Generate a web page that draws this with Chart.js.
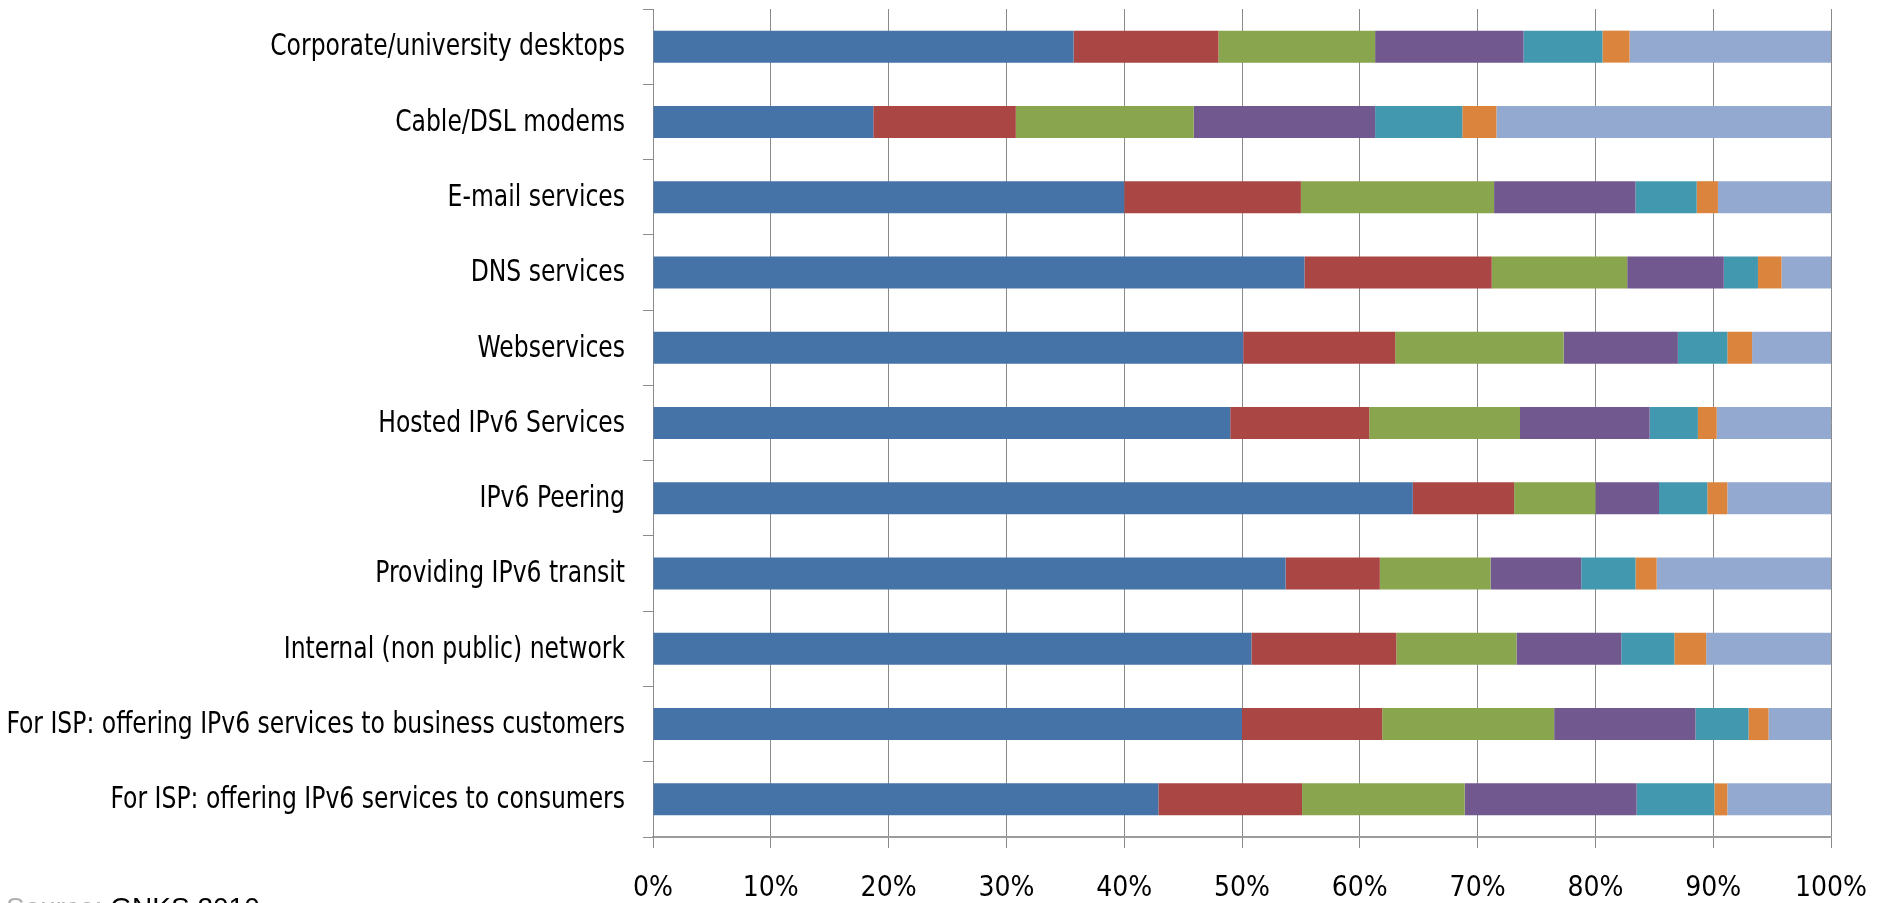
<!DOCTYPE html>
<html>
<head>
<meta charset="utf-8">
<script src="https://cdn.jsdelivr.net/npm/chart.js@4"></script>
<style>
  html, body { margin: 0; padding: 0; background: #fff; overflow: hidden; }
  #wrap { position: relative; width: 1877px; height: 903px; overflow: hidden; }
  #note {
    position: absolute; left: 6px; top: 892px;
    font-family: 'Liberation Sans', Arial, sans-serif; font-size: 28px;
    color: #000; white-space: nowrap;
  }
  #note span { color: #b0b0b0; }
</style>
</head>
<body>
<div id="wrap">
  <canvas id="chart"></canvas>
  <div id="note"><span>Source:</span> GNKS 2010</div>
</div>
<script>
// Categories (top to bottom)
const categories = [
  'Corporate/university desktops',
  'Cable/DSL modems',
  'E-mail services',
  'DNS services',
  'Webservices',
  'Hosted IPv6 Services',
  'IPv6 Peering',
  'Providing IPv6 transit',
  'Internal (non public) network',
  'For ISP: offering IPv6 services to business customers',
  'For ISP: offering IPv6 services to consumers'
];

// Share of answers per category, in percent (each row sums to 100)
const series1 = [35.7, 18.7, 40.0, 55.3, 50.1, 49.0, 64.5, 53.7, 50.8, 50.0, 42.9];
const series2 = [12.3, 12.1, 15.0, 15.9, 12.9, 11.8, 8.6, 8.0, 12.3, 11.9, 12.2];
const series3 = [13.3, 15.1, 16.4, 11.5, 14.3, 12.8, 6.9, 9.4, 10.2, 14.6, 13.8];
const series4 = [12.6, 15.4, 12.0, 8.2, 9.7, 11.0, 5.4, 7.7, 8.9, 12.0, 14.6];
const series5 = [6.7, 7.4, 5.2, 2.9, 4.2, 4.1, 4.1, 4.6, 4.5, 4.5, 6.6];
const series6 = [2.3, 2.9, 1.8, 2.0, 2.1, 1.6, 1.7, 1.8, 2.7, 1.7, 1.1];
const series7 = [17.1, 28.4, 9.6, 4.2, 6.7, 9.7, 8.8, 14.8, 10.6, 5.3, 8.8];

const seriesNames = ['Series 1', 'Series 2', 'Series 3', 'Series 4', 'Series 5', 'Series 6', 'Series 7'];
const seriesColors = ['#4673A7', '#AA4744', '#89A54E', '#71588F', '#4298AF', '#DB843D', '#94A9D0'];

// X axis tick values
const xTicks = [0, 10, 20, 30, 40, 50, 60, 70, 80, 90, 100];

const LABEL_FONT = "'Liberation Sans Narrow', 'DejaVu Sans Condensed', sans-serif";
const GRID = '#8a8a8a';

const allSeries = [series1, series2, series3, series4, series5, series6, series7];

const datasets = allSeries.map((vals, i) => ({
  label: seriesNames[i],
  data: vals,
  backgroundColor: seriesColors[i],
  borderWidth: 0,
  barPercentage: 0.85,
  categoryPercentage: 0.5
}));

// Category labels drawn slightly condensed so the long ISP lines fit left of the axis
const condensedLabels = {
  id: 'condensedLabels',
  afterDraw(chart) {
    const ctx = chart.ctx;
    const y = chart.scales.y;
    const right = y.right - 10 - 18;
    ctx.save();
    ctx.fillStyle = '#000';
    ctx.font = '30px ' + LABEL_FONT;
    ctx.textAlign = 'right';
    ctx.textBaseline = 'middle';
    categories.forEach((label, i) => {
      ctx.save();
      ctx.translate(right, y.getPixelForValue(i) + 1);
      ctx.scale(0.87, 1);
      ctx.fillText(label, 0, 0);
      ctx.restore();
    });
    ctx.restore();
  }
};

new Chart(document.getElementById('chart'), {
  type: 'bar',
  data: { labels: categories, datasets: datasets },
  plugins: [condensedLabels],
  options: {
    indexAxis: 'y',
    responsive: true,
    maintainAspectRatio: false,
    animation: false,
    layout: { padding: { left: 0, right: 46, top: 9, bottom: 0 } },
    plugins: {
      legend: { display: false },
      tooltip: { enabled: false }
    },
    scales: {
      x: {
        stacked: true,
        min: 0,
        max: 100,
        afterBuildTicks: (scale) => { scale.ticks = xTicks.map(v => ({ value: v })); },
        ticks: {
          color: '#000',
          padding: 24,
          maxRotation: 0,
          font: { family: LABEL_FONT, size: 28 },
          callback: (v) => v + '%'
        },
        grid: { color: GRID, lineWidth: 1, tickLength: 11 },
        border: { color: '#9c9c9c', width: 2 },
        afterFit: (scale) => {
          scale.height = 66;
          scale.paddingLeft = 0;
          scale.paddingRight = 0;
        }
      },
      y: {
        stacked: true,
        ticks: { display: false },
        grid: { drawOnChartArea: false, color: GRID, tickLength: 10, offset: true },
        border: { color: GRID, width: 1 },
        afterFit: (scale) => { scale.width = 653; }
      }
    }
  }
});
</script>
</body>
</html>
